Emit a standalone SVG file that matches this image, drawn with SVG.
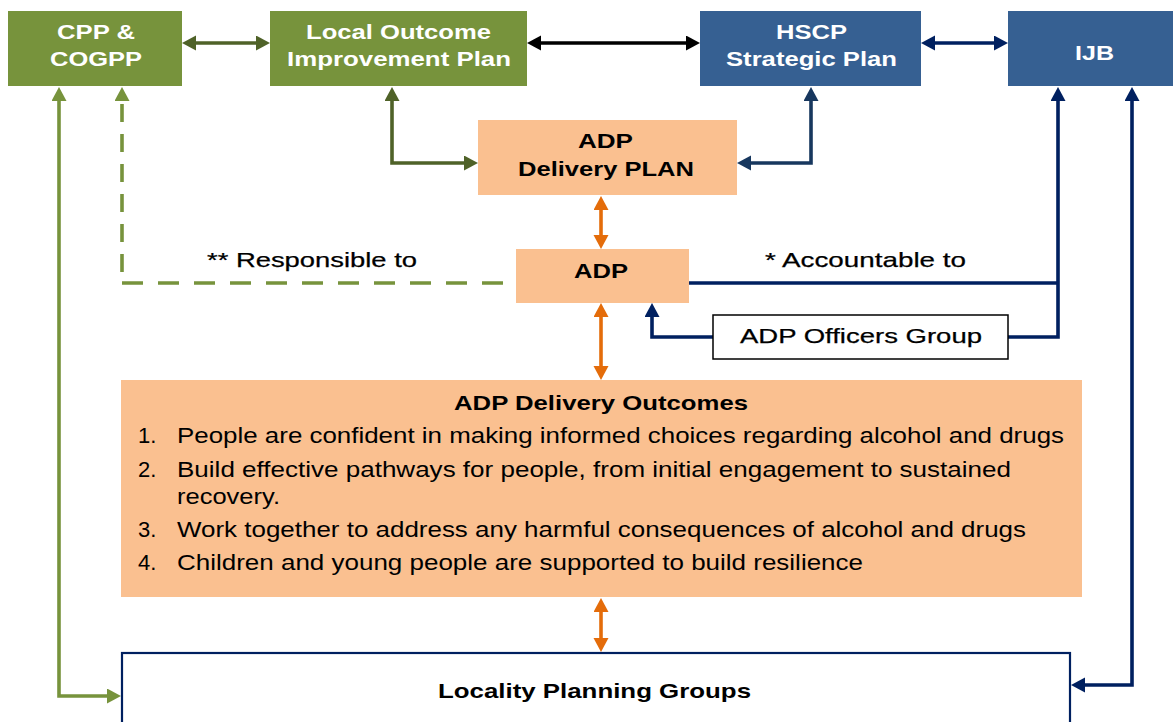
<svg xmlns="http://www.w3.org/2000/svg" width="1173" height="722" viewBox="0 0 1173 722">
<style>
  text { font-family: "Liberation Sans", Arial, sans-serif; }
  .wt { fill: #FFFFFF; font-weight: bold; font-size: 21px; }
  .bt { fill: #000000; font-weight: bold; font-size: 21px; }
  .nt { fill: #000000; font-size: 22px; }
  .lt { fill: #000000; font-size: 21px; stroke: #000000; stroke-width: 0.25; }
  .green { fill: #77933C; }
  .blue { fill: #366092; }
  .orange { fill: #FAC090; }
  .ln { fill: none; stroke-width: 3.6; stroke-linejoin: miter; }
</style>
<defs>
  <marker id="aDark" markerUnits="userSpaceOnUse" markerWidth="16" markerHeight="16" refX="3" refY="7.5" orient="auto-start-reverse"><path d="M0,0 L14,7.5 L0,15 z" fill="#4F6228"/></marker>
  <marker id="aBlack" markerUnits="userSpaceOnUse" markerWidth="16" markerHeight="16" refX="3" refY="7.5" orient="auto-start-reverse"><path d="M0,0 L14,7.5 L0,15 z" fill="#000000"/></marker>
  <marker id="aNavy" markerUnits="userSpaceOnUse" markerWidth="16" markerHeight="16" refX="3" refY="7.5" orient="auto-start-reverse"><path d="M0,0 L14,7.5 L0,15 z" fill="#002060"/></marker>
  <marker id="aNavy2" markerUnits="userSpaceOnUse" markerWidth="16" markerHeight="16" refX="3" refY="7.5" orient="auto-start-reverse"><path d="M0,0 L14,7.5 L0,15 z" fill="#17375E"/></marker>
  <marker id="aGreen" markerUnits="userSpaceOnUse" markerWidth="16" markerHeight="16" refX="3" refY="7.5" orient="auto-start-reverse"><path d="M0,0 L14,7.5 L0,15 z" fill="#77933C"/></marker>
  <marker id="aOrange" markerUnits="userSpaceOnUse" markerWidth="16" markerHeight="16" refX="3" refY="7.5" orient="auto-start-reverse"><path d="M0,0 L14,7.5 L0,15 z" fill="#E46C0A"/></marker>
</defs>
<rect width="1173" height="722" fill="#FFFFFF"/>

<g id="connectors">
  <path class="ln" stroke="#4F6228" d="M193,43 L259,43" marker-start="url(#aDark)" marker-end="url(#aDark)"/>
  <path class="ln" stroke="#000000" d="M538,43 L689,43" marker-start="url(#aBlack)" marker-end="url(#aBlack)"/>
  <path class="ln" stroke="#002060" d="M932,43 L997,43" marker-start="url(#aNavy)" marker-end="url(#aNavy)"/>
  <path class="ln" stroke="#4F6228" d="M392,98 L392,163 L467,163" marker-start="url(#aDark)" marker-end="url(#aDark)"/>
  <path class="ln" stroke="#17375E" d="M811,98 L811,163 L748,163" marker-start="url(#aNavy2)" marker-end="url(#aNavy2)"/>
  <path class="ln" stroke="#77933C" d="M59,98 L59,696 L110,696" marker-start="url(#aGreen)" marker-end="url(#aGreen)"/>
  <path class="ln" stroke="#77933C" d="M122,98 L122,283" stroke-dasharray="18 12" stroke-dashoffset="-6" marker-start="url(#aGreen)"/>
  <path class="ln" stroke="#77933C" d="M122,283 L512,283" stroke-dasharray="21 15"/>
  <path class="ln" stroke="#E46C0A" d="M601,207 L601,238" marker-start="url(#aOrange)" marker-end="url(#aOrange)"/>
  <path class="ln" stroke="#E46C0A" d="M601,314 L601,369" marker-start="url(#aOrange)" marker-end="url(#aOrange)"/>
  <path class="ln" stroke="#E46C0A" d="M601,609 L601,641" marker-start="url(#aOrange)" marker-end="url(#aOrange)"/>
  <path class="ln" stroke="#002060" d="M689,283 L1058,283"/>
  <path class="ln" stroke="#002060" d="M1058,98 L1058,337 L1008,337" marker-start="url(#aNavy)"/>
  <path class="ln" stroke="#002060" d="M713,337 L652,337 L652,314" marker-end="url(#aNavy)"/>
  <path class="ln" stroke="#002060" d="M1132,98 L1132,685 L1082,685" marker-start="url(#aNavy)" marker-end="url(#aNavy)"/>
</g>

<g id="cpp">
  <rect class="green" x="8" y="11" width="174" height="75"/>
  <text class="wt" x="57" y="39" textLength="78" lengthAdjust="spacingAndGlyphs">CPP &amp;</text>
  <text class="wt" x="50" y="66" textLength="92" lengthAdjust="spacingAndGlyphs">COGPP</text>
</g>
<g id="loip">
  <rect class="green" x="270" y="11" width="257" height="75"/>
  <text class="wt" x="306" y="39" textLength="185" lengthAdjust="spacingAndGlyphs">Local Outcome</text>
  <text class="wt" x="287" y="66" textLength="224" lengthAdjust="spacingAndGlyphs">Improvement Plan</text>
</g>
<g id="hscp">
  <rect class="blue" x="700" y="11" width="221" height="75"/>
  <text class="wt" x="776" y="39" textLength="71" lengthAdjust="spacingAndGlyphs">HSCP</text>
  <text class="wt" x="726" y="66" textLength="171" lengthAdjust="spacingAndGlyphs">Strategic Plan</text>
</g>
<g id="ijb">
  <rect class="blue" x="1008" y="11" width="165" height="75"/>
  <text class="wt" x="1075" y="60" textLength="39" lengthAdjust="spacingAndGlyphs">IJB</text>
</g>
<g id="delivery-plan">
  <rect class="orange" x="478" y="120" width="259" height="75"/>
  <text class="bt" x="578" y="148" font-size="22" textLength="55" lengthAdjust="spacingAndGlyphs">ADP</text>
  <text class="bt" x="518" y="176" font-size="22" textLength="176" lengthAdjust="spacingAndGlyphs">Delivery PLAN</text>
</g>
<g id="adp">
  <rect class="orange" x="516" y="249" width="173" height="54"/>
  <text class="bt" x="574" y="278" textLength="54" lengthAdjust="spacingAndGlyphs">ADP</text>
</g>
<g id="labels">
  <text class="lt" x="207" y="267" textLength="210" lengthAdjust="spacingAndGlyphs">** Responsible to</text>
  <text class="lt" x="765" y="267" textLength="201" lengthAdjust="spacingAndGlyphs">* Accountable to</text>
</g>
<g id="officers">
  <rect x="713" y="315" width="295" height="44" fill="#FFFFFF" stroke="#000000" stroke-width="1.5"/>
  <text class="lt" x="740" y="343" font-size="22" textLength="242" lengthAdjust="spacingAndGlyphs">ADP Officers Group</text>
</g>
<g id="outcomes">
  <rect class="orange" x="121" y="380" width="961" height="217"/>
  <text class="bt" x="454" y="410" font-size="20" textLength="294" lengthAdjust="spacingAndGlyphs">ADP Delivery Outcomes</text>
  <text class="nt" x="138" y="443">1.</text>
  <text class="nt" x="177" y="443" textLength="887" lengthAdjust="spacingAndGlyphs">People are confident in making informed choices regarding alcohol and drugs</text>
  <text class="nt" x="138" y="477">2.</text>
  <text class="nt" x="177" y="477" textLength="834" lengthAdjust="spacingAndGlyphs">Build effective pathways for people, from initial engagement to sustained</text>
  <text class="nt" x="177" y="504" textLength="103" lengthAdjust="spacingAndGlyphs">recovery.</text>
  <text class="nt" x="138" y="537">3.</text>
  <text class="nt" x="177" y="537" textLength="849" lengthAdjust="spacingAndGlyphs">Work together to address any harmful consequences of alcohol and drugs</text>
  <text class="nt" x="138" y="570">4.</text>
  <text class="nt" x="177" y="570" textLength="686" lengthAdjust="spacingAndGlyphs">Children and young people are supported to build resilience</text>
</g>
<g id="locality">
  <rect x="122" y="653" width="948" height="90" fill="#FFFFFF" stroke="#002060" stroke-width="2.2"/>
  <text class="bt" x="438" y="698" textLength="313" lengthAdjust="spacingAndGlyphs">Locality Planning Groups</text>
</g>
</svg>
